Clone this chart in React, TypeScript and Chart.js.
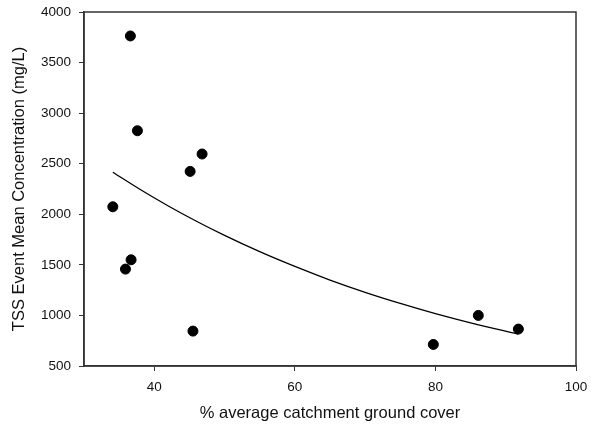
import React, { useEffect, useRef } from "react";
import { Chart, registerables } from "chart.js";

Chart.register(...registerables);

// Observed catchments: ground cover (%) vs TSS event mean concentration (mg/L)
const groundCover = [36.6, 37.6, 46.8, 45.1, 34.1, 36.7, 35.9, 45.5, 79.7, 86.1, 91.8];
const tssEmc = [3763, 2826, 2596, 2424, 2074, 1550, 1458, 845, 713, 1000, 865];

// Fitted exponential decay curve
const fitCover = [34.1, 38, 42, 46, 50, 55, 60, 65, 70, 75, 80, 85, 91.8];
const fitEmc = [2416, 2245, 2082, 1931, 1791, 1630, 1484, 1350, 1229, 1119, 1018, 927, 815];

const xTicks = [40, 60, 80, 100];
const yTicks = [500, 1000, 1500, 2000, 2500, 3000, 3500, 4000];

const FONT = "'Liberation Sans', Arial, sans-serif";
const AXIS_COLOR = "#333333";

const frame = {
  id: "frame",
  afterDraw(chart: any) {
    const { ctx, chartArea } = chart;
    ctx.save();
    ctx.strokeStyle = AXIS_COLOR;
    ctx.lineWidth = 1.5;
    ctx.strokeRect(chartArea.left, chartArea.top, chartArea.right - chartArea.left, chartArea.bottom - chartArea.top);
    ctx.restore();
  },
};

export default function App() {
  const ref = useRef<HTMLCanvasElement>(null);

  useEffect(() => {
    const canvas = ref.current;
    if (!canvas) return;
    const chart = new Chart(canvas, {
      type: "scatter",
      data: {
        datasets: [
          {
            label: "TSS EMC",
            data: groundCover.map((x, i) => ({ x, y: tssEmc[i] })),
            backgroundColor: "#000000",
            borderColor: "#000000",
            pointRadius: 5,
            pointHoverRadius: 5,
            showLine: false,
          },
          {
            label: "Fit",
            data: fitCover.map((x, i) => ({ x, y: fitEmc[i] })),
            borderColor: "#000000",
            borderWidth: 1.3,
            pointRadius: 0,
            showLine: true,
            tension: 0.4,
            cubicInterpolationMode: "monotone",
          } as any,
        ],
      },
      options: {
        responsive: false,
        animation: false,
        devicePixelRatio: 1,
        layout: { padding: { top: 12, right: 16, left: 0, bottom: 0 } },
        plugins: {
          legend: { display: false },
          tooltip: { enabled: false },
        },
        scales: {
          x: {
            type: "linear",
            min: 30,
            max: 100,
            afterBuildTicks: (scale: any) => {
              scale.ticks = xTicks.map((v) => ({ value: v }));
            },
            afterFit: (scale: any) => {
              scale.height = 59;
              scale.paddingLeft = 0;
              scale.paddingRight = 0;
            },
            grid: {
              display: true,
              drawOnChartArea: false,
              drawTicks: true,
              tickLength: 5,
              color: AXIS_COLOR,
              lineWidth: 1,
            },
            border: { display: true, color: AXIS_COLOR, width: 1.5 },
            ticks: {
              padding: 8,
              color: "#111111",
              font: { family: FONT, size: 13.5 },
              callback: (v: any) => String(v),
            },
            title: {
              display: true,
              text: "% average catchment ground cover",
              color: "#111111",
              font: { family: FONT, size: 16.5 },
              padding: { top: 4, bottom: 2 },
            },
          },
          y: {
            type: "linear",
            min: 500,
            max: 4000,
            afterBuildTicks: (scale: any) => {
              scale.ticks = yTicks.map((v) => ({ value: v }));
            },
            afterFit: (scale: any) => {
              scale.width = 84;
              scale.paddingTop = 0;
              scale.paddingBottom = 0;
            },
            grid: {
              display: true,
              drawOnChartArea: false,
              drawTicks: true,
              tickLength: 5,
              color: AXIS_COLOR,
              lineWidth: 1,
            },
            border: { display: true, color: AXIS_COLOR, width: 1.5 },
            ticks: {
              padding: 8,
              color: "#111111",
              font: { family: FONT, size: 13.5 },
              callback: (v: any) => String(v),
            },
            title: {
              display: true,
              text: "TSS Event Mean Concentration (mg/L)",
              color: "#111111",
              font: { family: FONT, size: 16.5 },
              padding: { top: 10, bottom: 4 },
            },
          },
        },
      },
      plugins: [frame],
    });
    return () => chart.destroy();
  }, []);

  return (
    <div style={{ position: "absolute", left: 0, top: 0, width: 592, height: 425, background: "#ffffff" }}>
      <canvas ref={ref} width={592} height={425} />
    </div>
  );
}
